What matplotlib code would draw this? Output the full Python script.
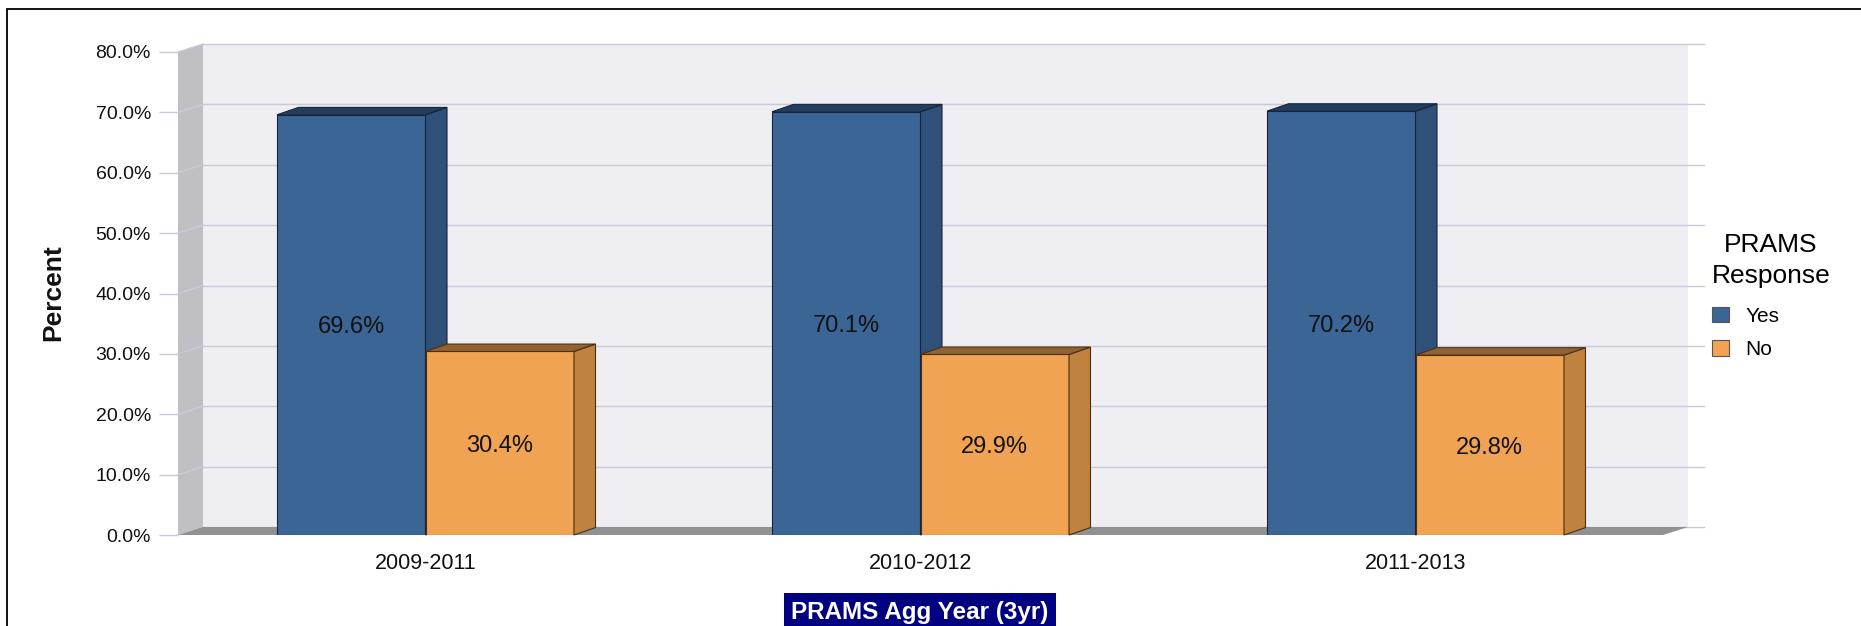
import matplotlib
matplotlib.use('Agg')
import matplotlib.pyplot as plt
from matplotlib.patches import Polygon, Rectangle, Patch

# ---------------- data ----------------
categories = ['2009-2011', '2010-2012', '2011-2013']
yes_values = [69.6, 70.1, 70.2]
no_values = [30.4, 29.9, 29.8]
series_names = ['Yes', 'No']
y_ticks = [0, 10, 20, 30, 40, 50, 60, 70, 80]
legend_title = 'PRAMS\nResponse'
x_title = 'PRAMS Agg Year (3yr)'
y_title = 'Percent'

# ---------------- style ----------------
plt.rcParams['font.family'] = ['Liberation Sans', 'DejaVu Sans']
W, H = 1861, 626
YES_FRONT, YES_SIDE, YES_TOP, YES_EDGE = '#3a6595', '#2e5079', '#233d5f', '#17243a'
NO_FRONT, NO_SIDE, NO_TOP, NO_EDGE = '#f0a352', '#c08240', '#936233', '#4a3010'
WALL_BACK, WALL_LEFT, FLOOR = '#eeeef3', '#c0c0c4', '#919191'
GRID = '#c9c9dc'

fig = plt.figure(figsize=(W / 100, H / 100), dpi=100)

# front plane axes
ax_l, ax_r, ax_t, ax_b = 178, 1663, 52, 535
ax = fig.add_axes([ax_l / W, (H - ax_b) / H, (ax_r - ax_l) / W, (ax_b - ax_t) / H])
n = len(categories)
ax.set_xlim(-0.5, n - 0.5)
ax.set_ylim(0, 80)
ax.patch.set_visible(False)
for s in ax.spines.values():
    s.set_visible(False)

px_x = (ax_r - ax_l) / n          # pixels per x unit
px_y = (ax_b - ax_t) / 80.0       # pixels per y unit
# depth of the walls / bars in data units
dxw, dyw = 25 / px_x, 8 / px_y
dxb, dyb = 21.5 / px_x, 7.4 / px_y

x0, x1 = -0.5, n - 0.5
# back wall
ax.add_patch(Rectangle((x0 + dxw, dyw), x1 - x0, 80, facecolor=WALL_BACK,
                       edgecolor='none', zorder=0.5, clip_on=False))
# gridlines on back wall + diagonals on left wall
for v in y_ticks:
    ax.plot([x0 + dxw, x1 + dxw + 16 / px_x], [v + dyw, v + dyw], color=GRID,
            lw=1.0, zorder=0.6, clip_on=False)
# left wall
ax.add_patch(Polygon([(x0, 0), (x0, 80), (x0 + dxw, 80 + dyw), (x0 + dxw, dyw)],
                     closed=True, facecolor=WALL_LEFT, edgecolor='none',
                     zorder=0.7, clip_on=False))
for v in y_ticks:
    ax.plot([x0, x0 + dxw], [v, v + dyw], color=GRID, lw=1.0, zorder=0.8, clip_on=False)
# floor
ax.add_patch(Polygon([(x0, 0), (x1, 0), (x1 + dxw, dyw), (x0 + dxw, dyw)],
                     closed=True, facecolor=FLOOR, edgecolor='none',
                     zorder=0.9, clip_on=False))

bw = 0.3
xs = list(range(n))


def draw_bars(xleft, values, front, side, top, edge, z):
    bars = ax.bar(xleft, values, width=bw, align='edge', color=front,
                  edgecolor=edge, linewidth=0.8, zorder=z)
    for b in bars:
        a, h, w = b.get_x(), b.get_height(), b.get_width()
        c = a + w
        ax.add_patch(Polygon([(c, 0), (c + dxb, dyb), (c + dxb, h + dyb), (c, h)],
                             closed=True, facecolor=side, edgecolor=edge,
                             linewidth=0.8, zorder=z, clip_on=False))
        ax.add_patch(Polygon([(a, h), (c, h), (c + dxb, h + dyb), (a + dxb, h + dyb)],
                             closed=True, facecolor=top, edgecolor=edge,
                             linewidth=0.8, zorder=z, clip_on=False))
        ax.text(a + w / 2, h / 2, f'{h:.1f}%', ha='center', va='center_baseline',
                fontsize=17, color='#111111', zorder=z + 0.5)
    return bars


draw_bars([x - bw for x in xs], yes_values, YES_FRONT, YES_SIDE, YES_TOP, YES_EDGE, 2)
draw_bars(xs, no_values, NO_FRONT, NO_SIDE, NO_TOP, NO_EDGE, 3)

# axes ticks
ax.set_yticks(y_ticks)
ax.set_yticklabels([f'{v:.1f}%' for v in y_ticks])
ax.tick_params(axis='y', length=13.7, width=1.0, color=GRID, pad=5.8,
               labelsize=14, labelcolor='#111111')
ax.set_xticks(xs)
ax.set_xticklabels(categories)
ax.tick_params(axis='x', length=0, pad=13, labelsize=15.5, labelcolor='#111111')

# y title
fig.text(53 / W, 1 - 293 / H, y_title, rotation=90, ha='center', va='center',
         fontsize=19, fontweight='bold', color='#111111')

# x title in navy box
fig.text(920 / W, 1 - 612 / H, x_title, ha='center', va='center', fontsize=17.5,
         fontweight='bold', color='white',
         bbox=dict(boxstyle='square,pad=0.3', facecolor='#000080', edgecolor='none'))

# legend
handles = [Patch(facecolor=YES_FRONT, edgecolor='#555555', linewidth=0.8),
           Patch(facecolor=NO_FRONT, edgecolor='#555555', linewidth=0.8)]
leg = ax.legend(handles, series_names, title=legend_title, loc='center',
                bbox_to_anchor=(1771 / W, 1 - 296 / H), bbox_transform=fig.transFigure,
                frameon=False, fontsize=15, title_fontsize=19, borderpad=0,
                handlelength=0.85, handleheight=0.78, handletextpad=0.78,
                labelspacing=0.69, alignment='left')
leg.get_title().set_multialignment('center')
leg.get_title().set_linespacing(1.4)
leg._legend_box.sep += 3

# outer frame
fig.add_artist(Rectangle((7 / W, -0.1), 1.2, 1 - 9 / H + 0.1, transform=fig.transFigure,
                         facecolor='none', edgecolor='black', linewidth=1.3))

fig.savefig('out.png', dpi=100)
